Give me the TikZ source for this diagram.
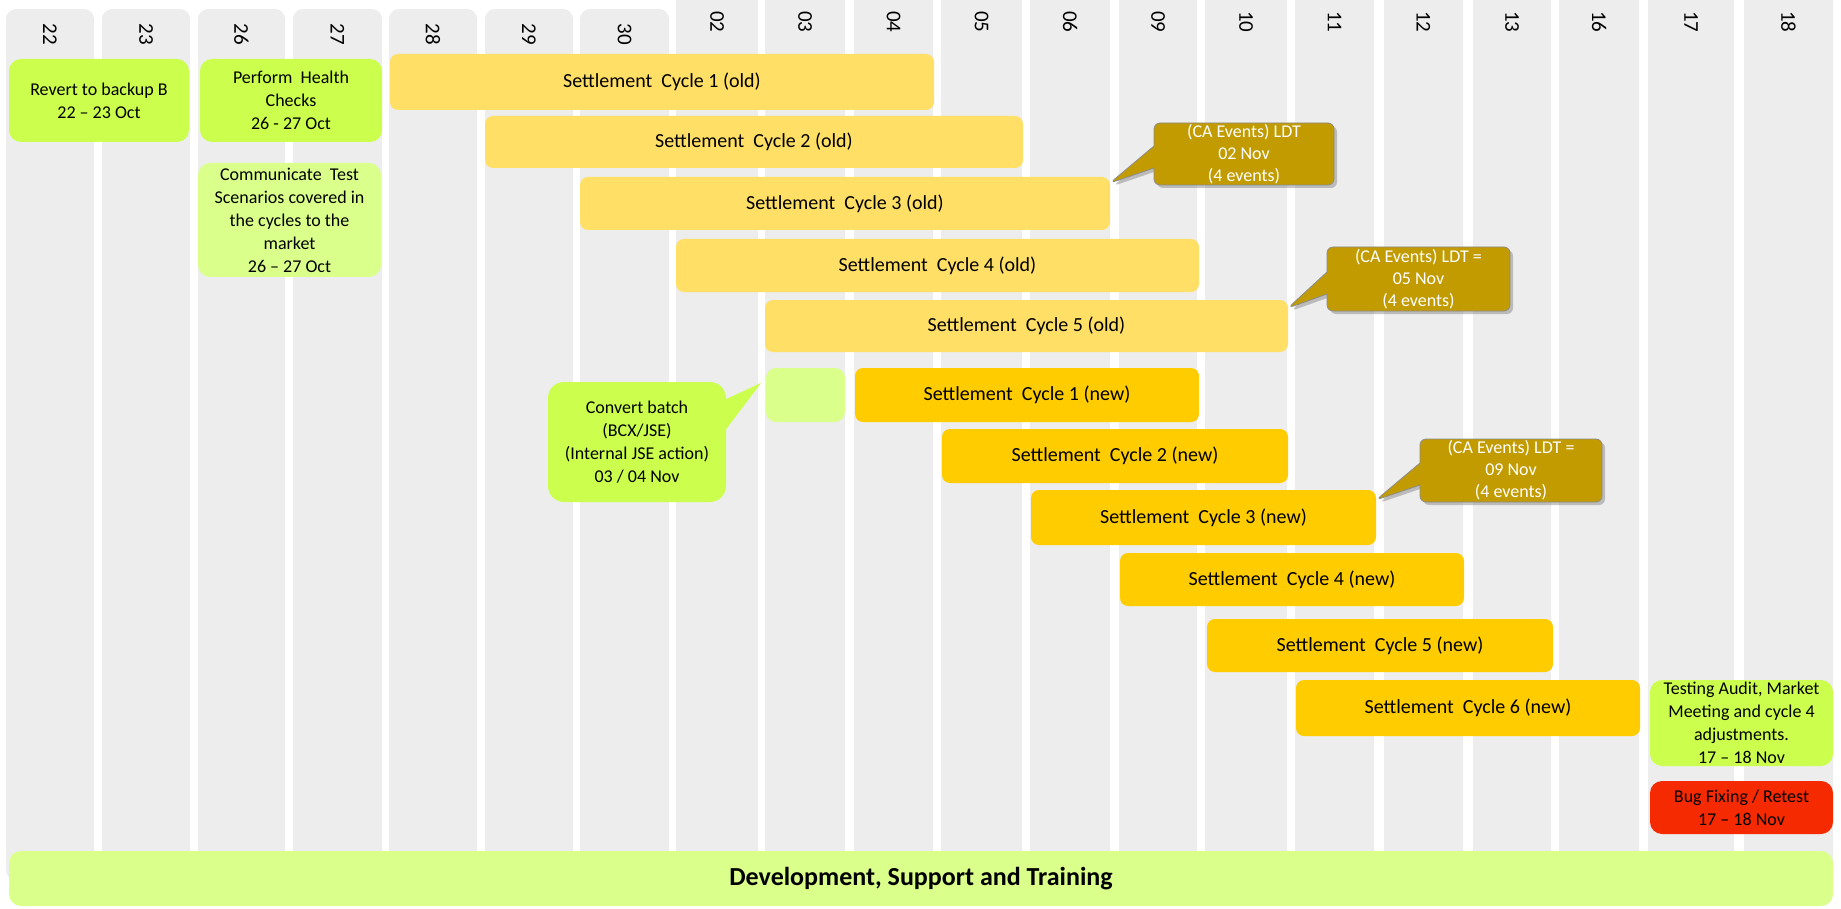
\documentclass[tikz,border=0pt]{standalone}
\usepackage{fontspec}
\setmainfont{Carlito}
\usetikzlibrary{shapes.callouts,shadows}

\definecolor{colbg}{HTML}{EDEDED}
\definecolor{oldbar}{HTML}{FFDF66}
\definecolor{newbar}{HTML}{FFCC00}
\definecolor{lime}{HTML}{CCFF4D}
\definecolor{palelime}{HTML}{DAFF8A}
\definecolor{gold}{HTML}{C29B00}
\definecolor{alert}{HTML}{F52A00}

% box from its corners (x1,y1)-(x2,y2), measured in units of the grid
\newcommand\placebox[7]{%
  \node[#6, minimum width={(#4-#2)*0.5pt}, minimum height={(#5-#3)*0.5pt}]
    (#1) at ({(#2+#4)/2},{(#3+#5)/2}) {#7};}

\tikzset{
  x=0.5pt, y=-0.5pt,
  daylabel/.style={rotate=-90, inner sep=0pt, font=\fontsize{10.5}{12}\selectfont},
  bar/.style={rounded corners=4pt, inner sep=0pt, outer sep=0pt, align=center,
    font=\fontsize{10}{12}\selectfont},
  oldcycle/.style={bar, fill=oldbar},
  newcycle/.style={bar, fill=newbar},
  task/.style={rounded corners=6pt, inner sep=0pt, outer sep=0pt, align=center,
    font=\fontsize{9}{11.5}\selectfont},
  cacallout/.style={rectangle callout, rounded corners=3pt, fill=gold,
    draw=black!45, line width=0.4pt, text=white, inner sep=0pt, align=center,
    callout pointer width=11pt,
    font=\fontsize{9}{11}\selectfont,
    drop shadow={shadow xshift=1.5pt, shadow yshift=-1.5pt, opacity=.45}},
}

\begin{document}
\begin{tikzpicture}
\useasboundingbox (0,0) rectangle (1841,909);
\clip (0,0) rectangle (1841,909);

% day columns with their dates
\foreach \dd/\xa/\xb/\yt/\ly [count=\i] in {
  22/6/94/9/34, 23/102/190/9/34, 26/198/285/9/34, 27/293/382/9/34,
  28/389/477/9/34, 29/485/573/9/34, 30/580/669/9/34,
  02/676/758/-20/22, 03/765/845/-20/22, 04/854/933/-20/22,
  05/941/1022/-20/22, 06/1030/1110/-20/22, 09/1119/1197/-20/22,
  10/1205/1287/-20/22, 11/1295/1374/-20/22, 12/1384/1463/-20/22,
  13/1473/1551/-20/22, 16/1559/1639/-20/22, 17/1648/1734/-20/22,
  18/1744/1833/-20/22} {
  \fill[colbg, rounded corners=5pt] (\xa,\yt) rectangle (\xb,880);
  \node[daylabel] (d\i) at ({(\xa+\xb)/2},\ly) {\dd};
}

% preparation tasks
\placebox{rv}{9}{59}{189}{142}{task, fill=lime}{Revert to backup B\\22 -- 23 Oct}
\placebox{ph}{200}{59}{382}{142}{task, fill=lime}{Perform\ \ Health\\Checks\\26 - 27 Oct}
\placebox{ct}{198}{163}{381}{277}{task, fill=palelime}{Communicate\ \ Test\\Scenarios covered in\\the cycles to the\\market\\26 -- 27 Oct}

% settlement cycles, old system
\placebox{s1o}{390}{54}{934}{110}{oldcycle}{Settlement\ \ Cycle 1 (old)}
\placebox{s2o}{485}{116}{1023}{168}{oldcycle}{Settlement\ \ Cycle 2 (old)}
\placebox{s3o}{580}{177}{1110}{230}{oldcycle}{Settlement\ \ Cycle 3 (old)}
\placebox{s4o}{676}{239}{1199}{292}{oldcycle}{Settlement\ \ Cycle 4 (old)}
\placebox{s5o}{765}{300}{1288}{352}{oldcycle}{Settlement\ \ Cycle 5 (old)}

% batch conversion slot
\placebox{b03}{766}{368}{845}{422}{task, rounded corners=5pt, fill=palelime}{}

% settlement cycles, new system
\placebox{s1n}{855}{368}{1199}{422}{newcycle}{Settlement\ \ Cycle 1 (new)}
\placebox{s2n}{942}{429}{1288}{483}{newcycle}{Settlement\ \ Cycle 2 (new)}
\placebox{s3n}{1031}{490}{1376}{545}{newcycle}{Settlement\ \ Cycle 3 (new)}
\placebox{s4n}{1120}{553}{1464}{606}{newcycle}{Settlement\ \ Cycle 4 (new)}
\placebox{s5n}{1207}{619}{1553}{672}{newcycle}{Settlement\ \ Cycle 5 (new)}
\placebox{s6n}{1296}{680}{1640}{736}{newcycle}{Settlement\ \ Cycle 6 (new)}

% closing tasks
\placebox{ta}{1650}{680}{1833}{766}{task, fill=lime}{Testing Audit, Market\\Meeting and cycle 4\\adjustments.\\17 -- 18 Nov}
\placebox{bf}{1650}{781}{1833}{834}{task, fill=alert}{Bug Fixing / Retest\\17 -- 18 Nov}

% ongoing work
\placebox{dev}{9}{851}{1833}{906}{task, rounded corners=6pt, fill=palelime,
  font=\fontsize{13}{15}\selectfont\bfseries}{Development, Support and Training}

% corporate action deadlines
\placebox{ca1}{1154}{123}{1334}{185}{cacallout,
  callout absolute pointer={([yshift=-3pt]s3o.north east)}}{(CA Events) LDT\\02 Nov\\(4 events)}
\placebox{ca2}{1327}{247}{1510}{311}{cacallout,
  callout absolute pointer={([yshift=-4pt]s5o.north east)}}{(CA Events) LDT =\\05 Nov\\(4 events)}
\placebox{ca3}{1420}{439}{1602}{502}{cacallout,
  callout absolute pointer={([yshift=-5pt]s3n.north east)}}{(CA Events) LDT =\\09 Nov\\(4 events)}

% batch conversion note
\placebox{cv}{548}{382}{726}{502}{task, rounded corners=8pt, fill=lime}{Convert batch\\(BCX/JSE)\\(Internal JSE action)\\03 / 04 Nov}
\fill[lime] ([xshift=-1pt, yshift=-9pt]cv.north east)
  -- ([xshift=-2.5pt, yshift=-7.5pt]b03.north west)
  -- ([xshift=-1pt, yshift=-25pt]cv.north east) -- cycle;
\end{tikzpicture}
\end{document}
